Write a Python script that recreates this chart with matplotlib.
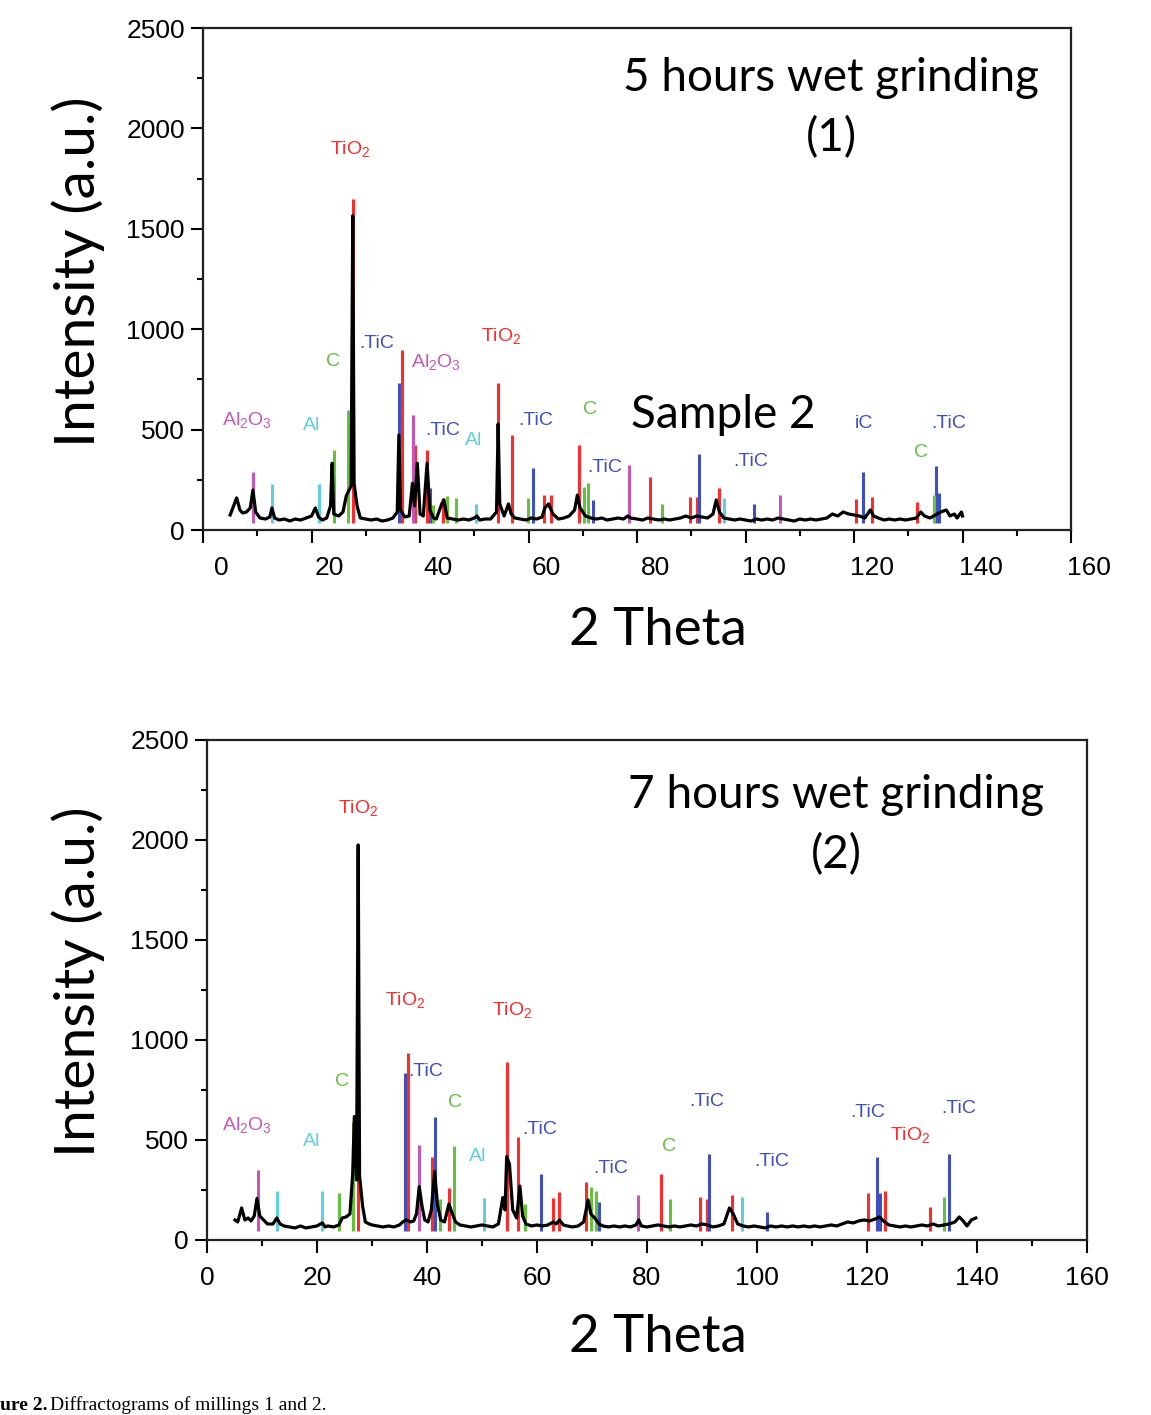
import matplotlib
matplotlib.use("Agg")
import matplotlib.pyplot as plt
import matplotlib.transforms as mtransforms
from matplotlib.ticker import MultipleLocator

plt.rcParams["font.family"] = "Liberation Sans"
plt.rcParams["mathtext.default"] = "regular"

RED, BLUE, GREEN, PINK, CYAN = "#ff2b2b", "#3e4fbf", "#62c23a", "#c756b6", "#5dcfe0"

# ---- milling 1 (5 h) : measured pattern ----
x1 = [5.0, 5.5, 6.2, 6.8, 7.3, 8.0, 8.7, 9.2, 9.7, 10.5, 11.5, 12.3, 12.7, 13.2, 14.0, 15.0,
      16.0, 17.0, 18.0, 19.0, 20.0, 20.7, 21.3, 22.0, 22.8, 23.5, 23.8, 24.1, 25.0, 25.8, 26.4,
      27.3, 27.6, 27.85, 28.4, 29.0, 30.0, 31.0, 32.0, 33.0, 34.0, 35.0, 35.8, 36.1, 36.4, 37.2,
      38.0, 38.6, 39.0, 39.5, 40.0, 40.6, 41.3, 41.8, 42.5, 43.0, 44.0, 44.4, 45.0, 46.0, 47.0,
      48.0, 49.0, 50.0, 50.5, 51.0, 52.0, 53.0, 54.1, 54.4, 54.7, 55.5, 56.3, 56.8, 57.5, 58.5,
      59.5, 60.5, 61.5, 62.5, 63.0, 63.7, 64.5, 65.5, 66.5, 67.5, 68.5, 69.0, 69.5, 70.5, 71.5,
      72.5, 73.5, 74.5, 75.5, 76.5, 77.5, 78.3, 78.8, 80.0, 81.0, 82.0, 83.0, 84.0, 85.0, 86.0,
      87.0, 88.0, 89.0, 90.0, 91.0, 92.0, 93.0, 94.0, 94.6, 95.2, 96.0, 97.0, 98.0, 99.0, 100.0,
      101.0, 102.0, 103.0, 104.0, 105.0, 106.0, 107.0, 108.0, 109.0, 110.0, 111.0, 112.0, 113.0,
      114.0, 115.0, 116.0, 117.0, 118.0, 119.0, 120.0, 121.0, 122.0, 123.0, 123.6, 124.5, 125.5,
      126.5, 127.5, 128.5, 129.5, 130.5, 131.5, 132.3, 133.0, 134.0, 135.0, 136.0, 137.0, 137.7,
      138.5, 139.0, 139.8, 140.0]
y1 = [75, 110, 160, 100, 85, 90, 110, 200, 90, 60, 55, 65, 110, 60, 50, 55,
      45, 55, 50, 60, 70, 110, 65, 50, 60, 120, 333, 80, 70, 90, 170,
      220, 1565, 230, 120, 60, 55, 50, 55, 45, 50, 60, 90, 473, 100, 65,
      70, 233, 120, 333, 80, 70, 333, 100, 60, 55, 130, 150, 60, 55, 50,
      55, 50, 60, 70, 50, 55, 55, 90, 528, 130, 70, 130, 80, 60, 55,
      50, 60, 55, 65, 110, 130, 80, 55, 60, 70, 100, 174, 110, 70, 60,
      55, 60, 50, 55, 60, 55, 70, 60, 55, 50, 60, 55, 50, 55, 50,
      55, 60, 70, 60, 70, 65, 60, 80, 150, 90, 60, 55, 50, 55, 50,
      45, 55, 50, 55, 50, 60, 55, 50, 45, 55, 50, 55, 50,
      55, 60, 80, 70, 90, 80, 75, 70, 60, 100, 70, 60, 50,
      55, 50, 55, 50, 55, 60, 90, 70, 60, 75, 90, 100, 70,
      80, 60, 90, 70]

# ---- milling 1 : reference sticks ----
red1_x = [27.6, 36.6, 39.0, 41.3, 44.2, 54.4, 57.0, 62.9, 64.2, 69.3, 82.4, 89.7, 91.1, 95.2, 120.3, 123.4, 131.7]
red1_y = [1650, 896, 423, 398, 160, 731, 473, 174, 174, 423, 265, 163, 163, 207, 153, 163, 141]
blue1_x = [36.2, 41.9, 60.8, 71.9, 91.4, 101.6, 121.7, 135.2, 135.7]
blue1_y = [730, 209, 310, 150, 378, 129, 287, 320, 183]
green1_x = [24.2, 26.8, 42.4, 45.0, 46.7, 59.9, 70.2, 71.0, 84.6, 134.7]
green1_y = [398, 598, 125, 170, 160, 160, 215, 232, 129, 174]
pink1_x = [9.3, 38.7, 78.6, 106.3]
pink1_y = [290, 573, 324, 174]
cyan1_x = [12.7, 21.3, 50.4, 96.0]
cyan1_y = [230, 230, 128, 158]

labels1 = [("TiO$_2$", 27.2, 1900, RED), ("Al$_2$O$_3$", 8.1, 548, PINK), ("Al", 20.1, 523, CYAN),
           ("C", 24.0, 837, GREEN), (".TiC", 32.1, 931, BLUE), ("Al$_2$O$_3$", 42.9, 837, PINK),
           ("TiO$_2$", 54.9, 966, RED), (".TiC", 44.2, 498, BLUE), ("Al", 49.9, 448, CYAN),
           (".TiC", 61.3, 548, BLUE), ("C", 71.3, 598, GREEN), (".TiC", 74.1, 314, BLUE),
           (".TiC", 100.9, 339, BLUE), ("iC", 121.8, 533, BLUE), (".TiC", 137.5, 533, BLUE),
           ("C", 132.3, 388, GREEN)]

# ---- milling 2 (7 h) : measured pattern ----
x2 = [5.1, 5.6, 6.3, 6.9, 7.5, 8.0, 8.6, 9.1, 9.6, 10.3, 11.0, 12.0, 12.7, 13.3, 14.0, 15.0,
      16.0, 17.0, 18.0, 19.0, 20.0, 21.0, 21.5, 22.0, 23.0, 24.0, 24.6, 25.3, 26.0, 26.5, 26.8,
      27.2, 27.5, 27.75, 28.3, 28.8, 29.5, 30.0, 31.0, 32.0, 33.0, 34.0, 35.0, 35.6, 36.2, 37.0,
      37.6, 38.1, 38.6, 39.1, 39.6, 40.2, 40.8, 41.4, 41.9, 42.5, 43.2, 44.0, 44.5, 45.2, 46.0,
      47.0, 48.0, 49.0, 50.0, 51.0, 52.0, 53.0, 53.8, 54.2, 54.5, 55.0, 55.6, 56.3, 56.9, 57.4,
      58.0, 59.0, 60.0, 61.0, 62.0, 63.0, 63.5, 64.1, 64.8, 65.5, 66.5, 67.5, 68.5, 69.3, 69.8,
      70.5, 71.3, 72.0, 73.0, 74.0, 75.0, 76.0, 77.0, 78.0, 78.5, 79.0, 80.0, 81.0, 82.0, 83.0,
      84.0, 85.0, 86.0, 87.0, 88.0, 89.0, 90.0, 91.0, 92.0, 93.0, 94.0, 95.0, 95.7, 96.5, 97.5,
      98.5, 99.5, 100.5, 101.5, 102.5, 103.5, 104.5, 105.5, 106.5, 107.5, 108.5, 109.5, 110.5,
      111.5, 112.5, 113.5, 114.5, 115.5, 116.5, 117.5, 118.5, 119.5, 120.5, 121.5, 122.3, 123.0,
      124.0, 125.0, 126.0, 127.0, 128.0, 129.0, 130.0, 131.0, 132.0, 133.0, 134.0, 135.0, 136.0,
      136.8, 137.5, 138.2, 139.0, 139.8]
y2 = [100, 90, 160, 100, 110, 95, 120, 208, 120, 100, 80, 80, 110, 80, 70, 65,
      60, 70, 60, 65, 70, 85, 65, 70, 65, 75, 110, 115, 130, 330, 617,
      300, 1975, 320, 170, 90, 80, 75, 70, 65, 70, 65, 75, 90, 100, 90,
      95, 130, 267, 170, 100, 90, 150, 342, 180, 100, 90, 180, 140, 90, 75,
      70, 65, 70, 75, 70, 65, 80, 212, 150, 417, 380, 150, 110, 270, 120,
      80, 70, 75, 70, 75, 90, 80, 100, 75, 70, 65, 70, 90, 200, 130,
      110, 80, 70, 65, 70, 65, 70, 65, 75, 100, 70, 65, 70, 75, 70,
      65, 70, 65, 70, 75, 70, 80, 75, 65, 70, 80, 160, 130, 80, 70,
      65, 70, 65, 60, 70, 65, 70, 65, 70, 65, 70, 65, 70,
      65, 70, 75, 70, 80, 90, 85, 95, 100, 95, 105, 115, 95,
      75, 70, 65, 70, 65, 70, 75, 70, 80, 70, 75, 80, 90,
      115, 95, 70, 100, 110]

red2_x = [27.5, 36.6, 41.0, 44.0, 54.5, 56.5, 62.9, 64.1, 69.0, 82.5, 89.6, 91.0, 95.5, 120.2, 123.2, 131.5]
red2_y = [1890, 937, 417, 258, 892, 513, 212, 238, 292, 328, 213, 203, 225, 237, 247, 167]
blue2_x = [36.0, 41.5, 60.7, 71.3, 91.3, 101.8, 121.9, 122.4, 134.9]
blue2_y = [833, 617, 330, 192, 430, 142, 417, 237, 430]
green2_x = [24.0, 26.5, 42.4, 45.0, 57.8, 69.9, 70.7, 84.2, 134.1]
green2_y = [237, 592, 203, 470, 180, 267, 247, 203, 213]
pink2_x = [9.3, 38.5, 78.3]
pink2_y = [350, 475, 225]
cyan2_x = [12.7, 21.0, 50.4, 97.2]
cyan2_y = [247, 247, 212, 213]

labels2 = [("TiO$_2$", 27.5, 2160, RED), ("TiO$_2$", 36.0, 1200, RED), ("TiO$_2$", 55.6, 1150, RED),
           (".TiC", 39.8, 840, BLUE), ("C", 24.5, 790, GREEN), ("C", 45.1, 685, GREEN),
           ("Al$_2$O$_3$", 7.3, 575, PINK), ("Al", 19.1, 490, CYAN), ("Al", 49.3, 415, CYAN),
           (".TiC", 60.5, 550, BLUE), (".TiC", 73.5, 355, BLUE), ("C", 84.0, 465, GREEN),
           (".TiC", 90.9, 690, BLUE), (".TiC", 102.7, 390, BLUE), (".TiC", 120.2, 635, BLUE),
           ("TiO$_2$", 127.8, 525, RED), (".TiC", 136.7, 655, BLUE)]

W, H = 1151, 1415
fig = plt.figure(figsize=(W / 100, H / 100), dpi=100)
ax1 = fig.add_axes([0.1764, 0.6254, 0.7541, 0.3548])
ax2 = fig.add_axes([0.1798, 0.1237, 0.7645, 0.3534])


def draw(ax, x, y, sticks, labels, base):
    for sx, sy, c in sticks:
        ax.vlines(sx, base, sy, colors=c, lw=2.2, zorder=2)
    ax.plot(x, y, color="black", lw=2.3, zorder=3)
    for t, lx, ly, c in labels:
        ax.text(lx, ly, t, color=c, fontsize=14, ha="center", va="center", zorder=4)
    ax.set_xlim(0, 160)
    ax.set_ylim(0, 2500)
    ax.xaxis.set_major_locator(MultipleLocator(20))
    ax.xaxis.set_minor_locator(MultipleLocator(10))
    ax.yaxis.set_major_locator(MultipleLocator(500))
    ax.yaxis.set_minor_locator(MultipleLocator(250))
    ax.tick_params(which="major", direction="out", length=9, width=1.5, labelsize=19, pad=4)
    ax.tick_params(which="minor", direction="out", length=4, width=1.5)
    ax.tick_params(axis="x", which="major", pad=10)
    for s in ax.spines.values():
        s.set_linewidth(1.6)
        s.set_color("#222222")


draw(ax1, x1, y1,
     [(red1_x, red1_y, RED), (blue1_x, blue1_y, BLUE), (green1_x, green1_y, GREEN),
      (pink1_x, pink1_y, PINK), (cyan1_x, cyan1_y, CYAN)], labels1, 35)
draw(ax2, x2, y2,
     [(red2_x, red2_y, RED), (blue2_x, blue2_y, BLUE), (green2_x, green2_y, GREEN),
      (pink2_x, pink2_y, PINK), (cyan2_x, cyan2_y, CYAN)], labels2, 45)

# top panel tick labels sit a little right of their ticks
shift = mtransforms.ScaledTranslation(0.18, 0, fig.dpi_scale_trans)
for lab in ax1.get_xticklabels():
    lab.set_transform(lab.get_transform() + shift)

big = dict(family="Lato", fontsize=41, ha="center", va="center")
fig.text(78 / W, 1 - 272 / H, "Intensity (a.u.)", rotation=90, **big)
fig.text(78 / W, 1 - 982 / H, "Intensity (a.u.)", rotation=90, **big)
big["fontsize"] = 38
fig.text(658 / W, 1 - 630 / H, "2 Theta", **big)
fig.text(658 / W, 1 - 1337 / H, "2 Theta", **big)

txt = dict(family="Lato", fontsize=33, ha="center", va="center")
ax1.text(0.7235, 0.900, "5 hours wet grinding", transform=ax1.transAxes, **txt)
ax1.text(0.7235, 0.781, "(1)", transform=ax1.transAxes, **txt)
ax1.text(0.599, 0.229, "Sample 2", transform=ax1.transAxes, **txt)
ax2.text(0.7153, 0.890, "7 hours wet grinding", transform=ax2.transAxes, **txt)
ax2.text(0.715, 0.770, "(2)", transform=ax2.transAxes, **txt)

fig.text(0.0, 1 / H, "ure 2.", family="Liberation Serif", fontweight="bold",
         fontsize=14, ha="left", va="bottom")
fig.text(50 / W, 1 / H, "Diffractograms of millings 1 and 2.", family="Liberation Serif",
         fontsize=14, ha="left", va="bottom")

fig.savefig("out.png", dpi=100)
